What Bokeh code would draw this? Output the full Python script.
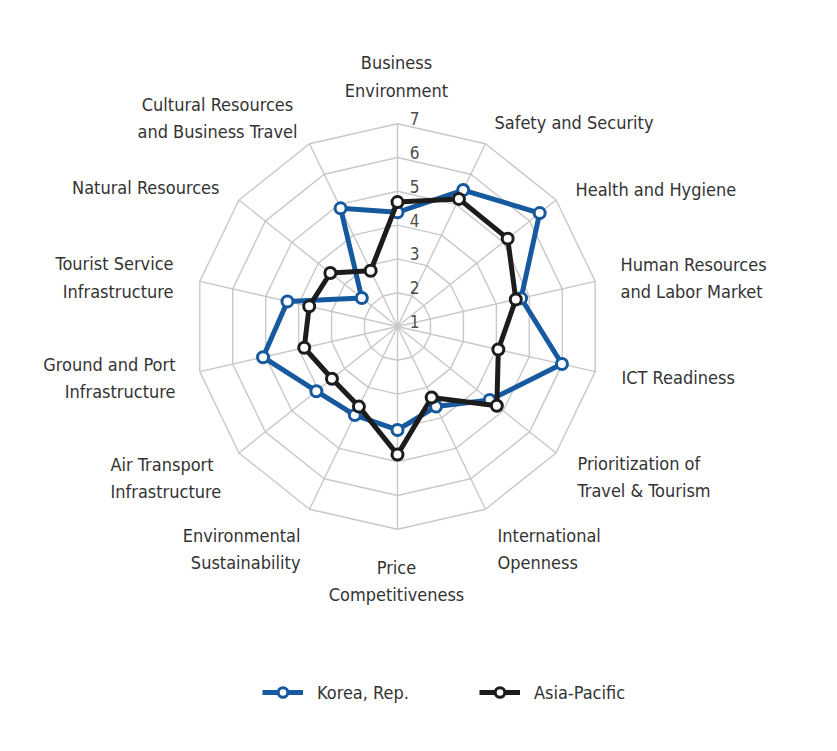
import numpy as np
from bokeh.plotting import figure
from bokeh.models import Range1d, Legend, LegendItem, ColumnDataSource
from bokeh.core.properties import value
from bokeh.embed import file_html
from bokeh.resources import INLINE

# ---------------- data ----------------
categories = [
    "Business Environment", "Safety and Security", "Health and Hygiene",
    "Human Resources and Labor Market", "ICT Readiness",
    "Prioritization of Travel & Tourism", "International Openness",
    "Price Competitiveness", "Environmental Sustainability",
    "Air Transport Infrastructure", "Ground and Port Infrastructure",
    "Tourist Service Infrastructure", "Natural Resources",
    "Cultural Resources and Business Travel",
]
korea = [4.38, 5.48, 6.38, 4.75, 5.99, 4.49, 3.63, 4.06, 3.91, 4.07, 5.08, 4.34, 2.35, 4.88]
asia_pacific = [4.68, 5.19, 5.17, 4.59, 4.06, 4.76, 3.33, 4.79, 3.63, 3.48, 3.83, 3.68, 3.54, 2.83]
tick_values = [1, 2, 3, 4, 5, 6, 7]
tick_labels = ["1", "2", "3", "4", "5", "6", "7"]
series_names = ["Korea, Rep.", "Asia-Pacific"]

# ---------------- layout ----------------
FONT_NAME = "'Liberation Sans Narrow', 'DejaVu Sans Condensed', 'Roboto Condensed', sans-serif"
FONT = value(FONT_NAME)
S = 33.8            # pixels per unit
W, H = 821, 735
CX, CY = 397, 326   # centre in canvas px
vmin, vmax = 1, 7
n = len(categories)
ang = np.arange(n) * 2 * np.pi / n

p = figure(width=W, height=H, output_backend="svg", toolbar_location=None,
           x_range=Range1d(-CX / S, (W - CX) / S),
           y_range=Range1d(-(H - CY) / S, CY / S),
           min_border=0, x_axis_location=None, y_axis_location=None)
p.grid.visible = False
p.outline_line_color = None
p.background_fill_color = "white"
p.border_fill_color = "white"

def to_xy(vals):
    r = np.asarray(vals, dtype=float) - vmin
    return r * np.sin(ang), r * np.cos(ang)

# grid rings
grid_col = "#c8c8c8"
ring_xs, ring_ys = [], []
for v in tick_values[1:]:
    x, y = to_xy([v] * n)
    ring_xs.append(list(x) + [x[0]])
    ring_ys.append(list(y) + [y[0]])
p.multi_line(ring_xs, ring_ys, line_color=grid_col, line_width=1.4)
# spokes
ox, oy = to_xy([vmax] * n)
p.multi_line([[0, xx] for xx in ox], [[0, yy] for yy in oy], line_color=grid_col, line_width=1.4)

# tick labels
p.text(x=[0] * len(tick_values), y=[v - vmin for v in tick_values], text=tick_labels,
       x_offset=17, y_offset=-5, text_align="center", text_baseline="middle",
       text_font=FONT, text_font_size="17px", text_color="#4d4d4d")

# series
blue = "#16599e"
black = "#1c1c1c"
kx, ky = to_xy(korea)
ax_, ay_ = to_xy(asia_pacific)
kline = p.line(list(kx) + [kx[0]], list(ky) + [ky[0]], line_color=blue, line_width=5, line_join="round")
kpts = p.scatter(kx, ky, size=11, fill_color="white", line_color=blue, line_width=3)
aline = p.line(list(ax_) + [ax_[0]], list(ay_) + [ay_[0]], line_color=black, line_width=5, line_join="round")
apts = p.scatter(ax_, ay_, size=11, fill_color="white", line_color=black, line_width=3)

# category labels (line text, image x, image y, alignment)
label_lines = [
    ("Business", 396, 62, "center"), ("Environment", 396, 90, "center"),
    ("Safety and Security", 494, 122, "left"),
    ("Health and Hygiene", 575, 189, "left"),
    ("Human Resources", 620, 264, "left"), ("and Labor Market", 620, 291, "left"),
    ("ICT Readiness", 621, 377, "left"),
    ("Prioritization of", 577, 463, "left"), ("Travel & Tourism", 577, 490, "left"),
    ("International", 497, 535, "left"), ("Openness", 497, 562, "left"),
    ("Price", 396, 567, "center"), ("Competitiveness", 396, 594, "center"),
    ("Environmental", 300, 535, "right"), ("Sustainability", 300, 562, "right"),
    ("Air Transport", 110, 464, "left"), ("Infrastructure", 110, 491, "left"),
    ("Ground and Port", 175, 364, "right"), ("Infrastructure", 175, 391, "right"),
    ("Tourist Service", 173, 263, "right"), ("Infrastructure", 173, 291, "right"),
    ("Natural Resources", 219, 187, "right"),
    ("Cultural Resources", 217, 104, "center"), ("and Business Travel", 217, 131, "center"),
]
for align in ("left", "center", "right"):
    rows = [r for r in label_lines if r[3] == align]
    src = ColumnDataSource(dict(
        x=[(r[1] - CX) / S for r in rows],
        y=[(CY - r[2]) / S for r in rows],
        t=[r[0] for r in rows]))
    p.text(x="x", y="y", text="t", source=src, text_align=align, text_baseline="middle",
           text_font=FONT, text_font_size="18px", text_color="#333333")

legend = Legend(items=[LegendItem(label=series_names[0], renderers=[kline, kpts]),
                       LegendItem(label=series_names[1], renderers=[aline, apts])],
                orientation="horizontal", location=(262, 31),
                glyph_width=41, glyph_height=24, label_height=24, label_standoff=14,
                spacing=70, padding=0, margin=0, border_line_color=None,
                background_fill_alpha=0, label_text_font=FONT_NAME,
                label_text_font_size="18px", label_text_color="#333333")
p.add_layout(legend, "center")

open("out.html", "w").write(file_html(p, INLINE))
